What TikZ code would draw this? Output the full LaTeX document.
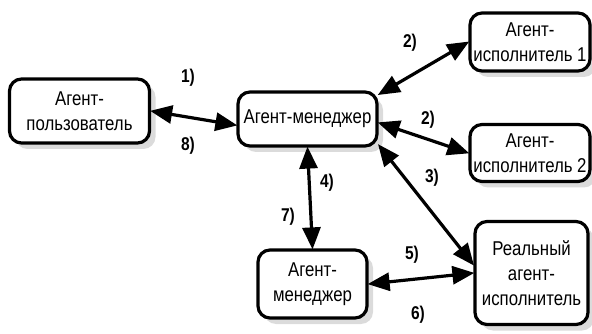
\documentclass[tikz,border=0pt]{standalone}
\usepackage{fontspec}
\setmainfont[FakeStretch=0.84]{Liberation Sans}
\usepackage{tikz}
\usetikzlibrary{arrows.meta,shadows}

\begin{document}
\begin{tikzpicture}[
    x=1pt, y=-1pt,
    agent/.style={draw, line width=3.2pt, rectangle, rounded corners=12pt,
        align=center, fill=white, inner sep=1pt,
        font=\fontsize{20}{25}\selectfont,
        drop shadow={shadow xshift=6pt, shadow yshift=-6pt, fill=black!28}},
    lbl/.style={font=\fontsize{18.5}{20}\selectfont\bfseries, inner sep=0pt},
    arrow/.style={line width=3.2pt, {Triangle[length=22pt,width=18pt]}-{Triangle[length=22pt,width=18pt]}, shorten <=-1pt, shorten >=-1pt},
]
\useasboundingbox (0,0) rectangle (592,334);

% ===== AGENTS =====
\node[agent, minimum width=140pt, minimum height=64pt] (user) at (79.5,111) {Агент-\\пользователь};
\node[agent, minimum width=139pt, minimum height=54pt] (mgr)  at (307.5,119) {Агент-менеджер};
\node[agent, minimum width=120pt, minimum height=58pt] (ex1)  at (530,42) {Агент-\\исполнитель 1};
\node[agent, minimum width=120pt, minimum height=57pt] (ex2)  at (530,153) {Агент-\\исполнитель 2};
\node[agent, minimum width=113pt, minimum height=103pt] (real) at (531.5,273) {Реальный\\агент-\\исполнитель};
\node[agent, minimum width=109pt, minimum height=68pt] (mgr2) at (312.5,284) {Агент-\\менеджер};

% ===== MESSAGES =====
\draw[arrow] (user.east) -- (mgr.185);
\draw[arrow] (mgr.19) -- (ex1.west);
\draw[arrow] (mgr.-3) -- (ex2.west);
\draw[arrow] (mgr.-20) -- (real.172);
\draw[arrow] (mgr.south) -- (mgr2.north);
\draw[arrow] (mgr2.east) -- (real.west);

% Step numbers
\node[lbl] (n1)  at (188,78)  {1)};
\node[lbl] (n8)  at (188,146) {8)};
\node[lbl] (n2a) at (410,43)  {2)};
\node[lbl] (n2b) at (428,120) {2)};
\node[lbl] (n3)  at (432,178) {3)};
\node[lbl] (n4)  at (327,183) {4)};
\node[lbl] (n7)  at (288,217) {7)};
\node[lbl] (n5)  at (412,255) {5)};
\node[lbl] (n6)  at (418,315) {6)};

\end{tikzpicture}
\end{document}
